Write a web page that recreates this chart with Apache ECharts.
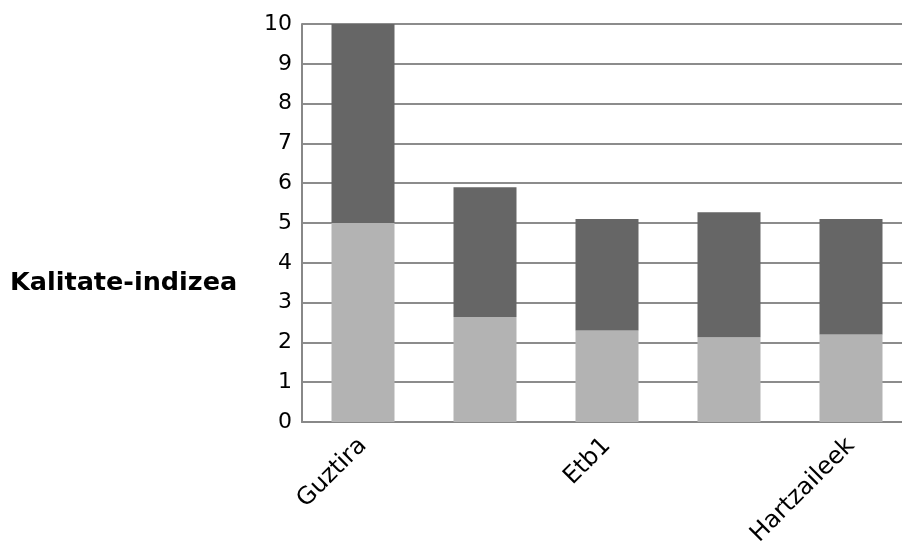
<!DOCTYPE html>
<html>
<head>
<meta charset="utf-8">
<script src="https://cdn.jsdelivr.net/npm/echarts@6/dist/echarts.min.js"></script>
<style>html,body{margin:0;padding:0;background:#fff;overflow:hidden}#c{width:912px;height:549px}</style>
</head>
<body>
<div id="c"></div>
<script>
const categories = ['Guztira', 'Etb2', 'Etb1', 'Beste', 'Hartzaileek'];
const lowerValues = [5.0, 2.64, 2.30, 2.13, 2.20];
const upperValues = [5.0, 3.26, 2.80, 3.14, 2.90];
const yTicks = { min: 0, max: 10, interval: 1 };
const axisTitle = 'Kalitate-indizea';

const chart = echarts.init(document.getElementById('c'), null, { renderer: 'canvas' });
const font = 'DejaVu Sans';
chart.setOption({
  animation: false,
  title: {
    text: axisTitle, left: 10, top: 270, padding: 0,
    textStyle: { fontFamily: font, fontSize: 25.5, fontWeight: 'bold', color: '#000' }
  },
  grid: { left: 302, top: 24, right: 0, height: 398 },
  xAxis: {
    type: 'category', data: categories,
    axisLine: { lineStyle: { color: '#888', width: 2 } },
    axisTick: { show: false },
    axisLabel: { interval: 1, rotate: 45, fontFamily: font, fontSize: 24, color: '#000', margin: 20 }
  },
  yAxis: {
    type: 'value', min: yTicks.min, max: yTicks.max, interval: yTicks.interval,
    axisLine: { show: true, lineStyle: { color: '#888', width: 2 } },
    axisTick: { show: false },
    splitLine: { lineStyle: { color: '#8c8c8c', width: 2 } },
    axisLabel: { fontFamily: font, fontSize: 22, color: '#000', margin: 10 }
  },
  series: [
    { type: 'bar', stack: 's', data: lowerValues, barWidth: 63, itemStyle: { color: '#b3b3b3' } },
    { type: 'bar', stack: 's', data: upperValues, barWidth: 63, itemStyle: { color: '#666666' } }
  ]
});
</script>
</body>
</html>
